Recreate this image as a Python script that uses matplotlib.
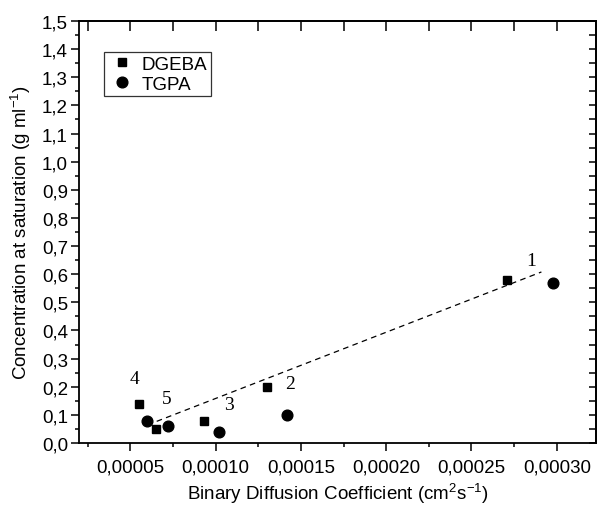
import matplotlib
matplotlib.use("Agg")
import matplotlib.pyplot as plt
from matplotlib.ticker import FixedLocator, FixedFormatter, MultipleLocator

plt.rcParams["font.family"] = ["Liberation Sans", "DejaVu Sans"]
plt.rcParams["mathtext.fontset"] = "custom"
plt.rcParams["mathtext.rm"] = "Liberation Sans"
plt.rcParams["mathtext.it"] = "Liberation Sans:italic"
plt.rcParams["mathtext.bf"] = "Liberation Sans:bold"

# values
dgeba_x = [0.000271, 0.000130, 0.000093, 0.000055, 0.000065]
dgeba_y = [0.58, 0.20, 0.08, 0.14, 0.05]
tgpa_x = [0.000298, 0.000142, 0.000102, 0.000060, 0.000072]
tgpa_y = [0.57, 0.10, 0.04, 0.08, 0.06]
fit_x = [0.0000655, 0.000291]
fit_y = [0.077, 0.608]

point_names = ["1", "2", "3", "4", "5"]
name_x = [0.000285, 0.0001435, 0.0001077, 0.0000525, 0.0000711]
name_y = [0.649, 0.213, 0.136, 0.230, 0.159]

xticks = [0.00005, 0.00010, 0.00015, 0.00020, 0.00025, 0.00030]
xtick_labels = ["0,00005", "0,00010", "0,00015", "0,00020", "0,00025", "0,00030"]
yticks = [0.0, 0.1, 0.2, 0.3, 0.4, 0.5, 0.6, 0.7, 0.8, 0.9, 1.0, 1.1, 1.2, 1.3, 1.4, 1.5]
ytick_labels = ["0,0", "0,1", "0,2", "0,3", "0,4", "0,5", "0,6", "0,7",
                "0,8", "0,9", "1,0", "1,1", "1,2", "1,3", "1,4", "1,5"]

fig = plt.figure(figsize=(5.99, 5.06), dpi=100)
ax = fig.add_axes([0.132, 0.1225, 0.863, 0.834])

ax.plot(fit_x, fit_y, color="black", linestyle=(0, (4.5, 3.5)), linewidth=0.9)
ax.plot(dgeba_x, dgeba_y, "s", color="black", markersize=6.3, label="DGEBA")
ax.plot(tgpa_x, tgpa_y, "o", color="black", markersize=7.7, label="TGPA")

for name, x, y in zip(point_names, name_x, name_y):
    ax.text(x, y, name, family="Liberation Serif", fontsize=14,
            ha="center", va="center")

ax.set_xlim(0.00002, 0.000323)
ax.set_ylim(0.0, 1.5)

ax.xaxis.set_major_locator(FixedLocator(xticks))
ax.xaxis.set_major_formatter(FixedFormatter(xtick_labels))
ax.xaxis.set_minor_locator(MultipleLocator(0.000025))
ax.yaxis.set_major_locator(FixedLocator(yticks))
ax.yaxis.set_major_formatter(FixedFormatter(ytick_labels))
ax.yaxis.set_minor_locator(MultipleLocator(0.05))

ax.tick_params(axis="both", which="both", labelsize=13.5, width=1.1)
ax.tick_params(axis="both", which="major", length=6)
ax.tick_params(axis="both", which="minor", length=3)
ax.tick_params(axis="x", which="major", pad=5)
ax.tick_params(axis="y", which="major", pad=2)

# mirrored ticks on top/right point inward, bottom/left outward
ax2 = ax.secondary_xaxis("top")
ax2.xaxis.set_major_locator(FixedLocator(xticks))
ax2.xaxis.set_minor_locator(MultipleLocator(0.000025))
ax2.tick_params(which="both", direction="in", length=7, width=1.1)
ax2.set_xticklabels([])
ay2 = ax.secondary_yaxis("right")
ay2.yaxis.set_major_locator(FixedLocator(yticks))
ay2.yaxis.set_minor_locator(MultipleLocator(0.05))
ay2.tick_params(which="both", direction="in", length=5, width=1.1)
ay2.set_yticklabels([])

for spine in ax.spines.values():
    spine.set_linewidth(1.3)
ax2.spines["top"].set_linewidth(1.3)
ay2.spines["right"].set_linewidth(1.3)

ax.set_xlabel("Binary Diffusion Coefficient (cm$^2$s$^{-1}$)", fontsize=13.5, labelpad=4)
ax.set_ylabel("Concentration at saturation (g ml$^{-1}$)", fontsize=13.5, labelpad=6)

leg = ax.legend(loc="upper left", bbox_to_anchor=(0.048, 0.927), borderaxespad=0,
                fontsize=13.5, frameon=True, fancybox=False, handletextpad=0.3,
                handlelength=1.5, borderpad=0.2, labelspacing=0.15)
leg.get_frame().set_edgecolor("black")
leg.get_frame().set_linewidth(0.9)

fig.savefig("out.png", dpi=100)
